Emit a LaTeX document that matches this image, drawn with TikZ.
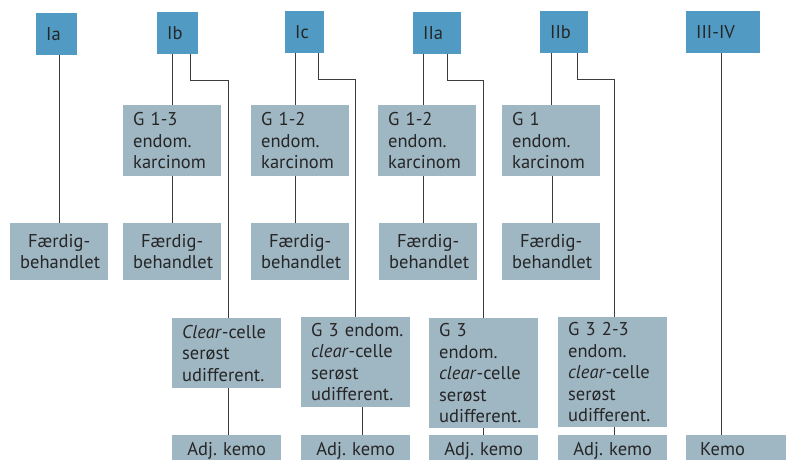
\documentclass[tikz,border=0pt]{standalone}
\usepackage{fontspec}
\setmainfont{PT Sans}
\definecolor{topblue}{HTML}{519AC3}
\definecolor{boxgray}{HTML}{9FB6C3}
\definecolor{txt}{HTML}{262626}
\definecolor{lncol}{HTML}{3C3C3C}
\tikzset{
  basebox/.style={anchor=north west, inner xsep=10pt, inner ysep=0pt, text=txt,
    font=\fontsize{18.5}{21.5}\selectfont},
  stage/.style={basebox, fill=topblue, minimum height=42pt, align=left},
  gbox/.style={basebox, fill=boxgray, text width=78pt, minimum height=71pt, align=left},
  fbox/.style={basebox, fill=boxgray, text width=78pt, minimum height=57pt, align=center},
  cbox/.style={basebox, fill=boxgray, text width=89pt, align=left},
  abox/.style={basebox, fill=boxgray, text width=89pt, minimum height=25pt,
    text height=15pt, text depth=0pt, align=center},
  conn/.style={draw=lncol, line width=1.2pt}
}
\begin{document}
\begin{tikzpicture}[x=1pt,y=-1pt]
\clip (0,0) rectangle (786,460);
\fill[white] (0,0) rectangle (786,460);
% top stage boxes
\node[stage, text width=21pt] (ia) at (36,13) {Ia};
\node[stage, text width=21pt] (ib) at (157,12) {Ib};
\node[stage, text width=19pt] (ic) at (285,11) {Ic};
\node[stage, text width=28pt] (iia) at (413,12) {IIa};
\node[stage, text width=28pt] (iib) at (540,11) {IIb};
\node[stage, text width=54pt] (iii) at (686,11) {III-IV};
% grade boxes
\node[gbox] (gib) at (123,105) {G 1-3\\endom.\\karcinom};
\node[gbox] (gic) at (251,105) {G 1-2\\endom.\\karcinom};
\node[gbox] (giia) at (378,105) {G 1-2\\endom.\\karcinom};
\node[gbox] (giib) at (502,105) {G 1\\endom.\\karcinom};
% finished boxes
\node[fbox] (fia) at (10,223) {Færdig-\\behandlet};
\node[fbox] (fib) at (123,223) {Færdig-\\behandlet};
\node[fbox] (fic) at (251,223) {Færdig-\\behandlet};
\node[fbox] (fiia) at (379,223) {Færdig-\\behandlet};
\node[fbox] (fiib) at (502,223) {Færdig-\\behandlet};
% high risk boxes
\node[cbox, minimum height=70pt] (cib) at (172,318) {\textit{Clear}-celle\\serøst\\udifferent.};
\node[cbox, minimum height=90pt] (cic) at (301,317) {\mbox{G 3 endom.}\\\textit{clear}-celle\\serøst\\udifferent.};
\node[cbox, minimum height=110pt] (ciia) at (429,318) {G 3\\endom.\\\textit{clear}-celle\\serøst\\udifferent.};
\node[cbox, minimum height=110pt] (ciib) at (558,317) {G 3 2-3\\endom.\\\textit{clear}-celle\\serøst\\udifferent.};
% therapy boxes
\node[abox] (aib) at (172,435) {Adj.\ kemo};
\node[abox] (aic) at (301,435) {Adj.\ kemo};
\node[abox] (aiia) at (429,435) {Adj.\ kemo};
\node[abox] (aiib) at (558,435) {Adj.\ kemo};
\node[basebox, fill=boxgray, inner xsep=14pt, text width=72pt, minimum height=25pt,
  text height=15pt, text depth=0pt, align=left] (kemo) at (686,435) {Kemo};
% connectors
\draw[conn] (fia.north |- ia.south) -- (fia.north);
\draw[conn] (gib.north |- ib.south) -- (gib.north);
\draw[conn] (gib.south) -- (fib.north);
\draw[conn] ([xshift=-8pt]ib.south east) -- ++(0,26) -| ([xshift=1.5pt]cib.north);
\draw[conn] ([xshift=1.5pt]cib.south) -- ([xshift=1.5pt]aib.north);
\draw[conn] ([xshift=10.5pt]ic.south west) -- ([xshift=10.5pt]ic.south west |- gic.north);
\draw[conn] ([xshift=-4.5pt]gic.south) -- ([xshift=-4.5pt]fic.north);
\draw[conn] ([xshift=-6pt]ic.south east) -- ++(0,26) -| (cic.north);
\draw[conn] ([xshift=6.5pt]cic.south) -- ([xshift=6.5pt]aic.north);
\draw[conn] ([xshift=10.5pt]iia.south west) -- ([xshift=10.5pt]iia.south west |- giia.north);
\draw[conn] ([xshift=-3.5pt]giia.south) -- ([xshift=-3.5pt]giia.south |- fiia.north);
\draw[conn] ([xshift=-14pt]iia.south east) -- ++(0,26) -| (ciia.north);
\draw[conn] (ciia.south) -- (aiia.north);
\draw[conn] (giib.north |- iib.south) -- (giib.north);
\draw[conn] ([xshift=1pt]giib.south) -- ([xshift=1pt]fiib.north);
\draw[conn] ([xshift=-11pt]iib.south east) -- ++(0,26) -| ([xshift=1.5pt]ciib.north);
\draw[conn] ([xshift=1.5pt]ciib.south) -- ([xshift=1.5pt]aiib.north);
\draw[conn] ([xshift=-2pt]iii.south) -- ([xshift=-2pt]iii.south |- kemo.north);
\end{tikzpicture}
\end{document}
